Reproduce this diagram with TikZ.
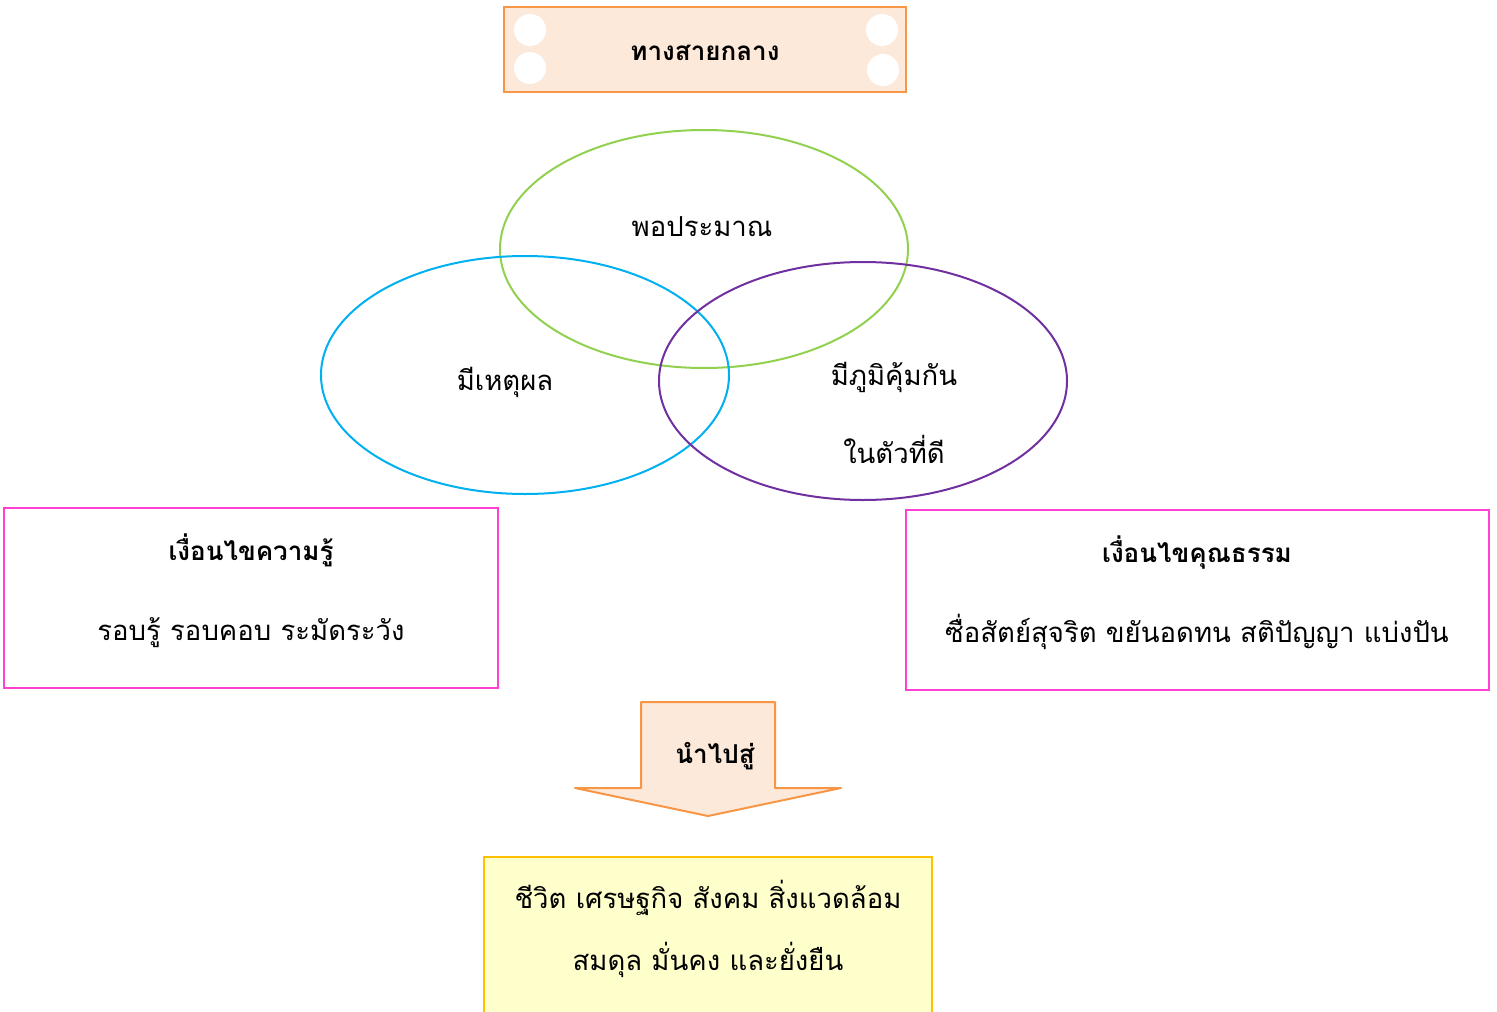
\documentclass[tikz,border=0pt]{standalone}
\usepackage{fontspec}
\usepackage{xcolor}
\usetikzlibrary{shapes.geometric}
\newfontfamily\thaifont[Script=Thai]{Loma}
\definecolor{naranja}{HTML}{F79646}
\definecolor{naranjaclaro}{HTML}{FDE9D9}
\definecolor{verde}{HTML}{92D050}
\definecolor{azul}{HTML}{00B0F0}
\definecolor{morado}{HTML}{7030A0}
\definecolor{rosa}{HTML}{FF40D0}
\definecolor{amarillo}{HTML}{FFC000}
\definecolor{amarilloclaro}{HTML}{FFFFCC}

\begin{document}
\begin{tikzpicture}[x=1pt, y=-1pt]
      % Definimos algunos estilos
      \tikzstyle{texto}=[
        font=\thaifont\fontsize{27.5}{32}\selectfont,
        anchor=base,
        inner sep=0pt
      ]
      \tikzstyle{titulo}=[texto, font=\thaifont\bfseries\fontsize{26}{30}\selectfont]
      % los tres conjuntos
      \tikzstyle{conjunto}=[
          ellipse,
          minimum width=408pt,
          minimum height=238pt,
          line width=2pt
      ]
      % cajas de condiciones
      \tikzstyle{condicion}=[
          rectangle,
          draw=rosa,
          line width=2pt,
          minimum height=180pt
      ]
      \tikzstyle{hueco}=[circle, fill=white, inner sep=0pt, minimum size=32pt]

      \useasboundingbox (0,0) rectangle (1497,1012);

      % camino medio
      \node[rectangle, fill=naranjaclaro, draw=naranja, line width=2pt,
        minimum width=402pt, minimum height=85pt] (camino) at (705,49.5) {};
      \node[hueco] (h1) at (530,30) {};
      \node[hueco] (h2) at (530,68) {};
      \node[hueco] (h3) at (882,30) {};
      \node[hueco] (h4) at (883,70) {};
      \node[titulo] (tcamino) at (705,60) {ทางสายกลาง};

      % conjuntos
      \node[conjunto, draw=verde] (moderacion) at (704,249) {};
      \node[conjunto, draw=azul] (razon) at (525,375) {};
      \node[conjunto, draw=morado] (inmunidad) at (863,381) {};
      \node[texto] (tmoderacion) at (702,236) {พอประมาณ};
      \node[texto] (trazon) at (505,390) {มีเหตุผล};
      \node[texto] (tinmunidad) at (894,385) {มีภูมิคุ้มกัน};
      \node[texto] (tinmunidad2) at (894,463) {ในตัวที่ดี};

      % condicion de conocimiento
      \node[condicion, minimum width=494pt] (conocimiento) at (251,598) {};
      \node[titulo] (tconocimiento) at (251,560) {เงื่อนไขความรู้};
      \node[texto] (tconocimiento2) at (251,640) {รอบรู้ รอบคอบ ระมัดระวัง};

      % condicion de virtud
      \node[condicion, minimum width=583pt] (virtud) at (1197.5,600) {};
      \node[titulo] (tvirtud) at (1197,562) {เงื่อนไขคุณธรรม};
      \node[texto] (tvirtud2) at (1197,642) {ซื่อสัตย์สุจริต ขยันอดทน สติปัญญา แบ่งปัน};

      % flecha
      \filldraw[fill=naranjaclaro, draw=naranja, line width=2pt, line join=round]
        (641,702) -- (775,702) -- (775,788) -- (841,788) -- (708,816)
        -- (575,788) -- (641,788) -- cycle;
      \node[titulo] (tflecha) at (715,763) {นำไปสู่};

      % resultado
      \node[rectangle, fill=amarilloclaro, draw=amarillo, line width=2pt,
        minimum width=448pt, minimum height=170pt] (resultado) at (708,942) {};
      \node[texto] (tresultado) at (708,908) {ชีวิต เศรษฐกิจ สังคม สิ่งแวดล้อม};
      \node[texto] (tresultado2) at (708,970) {สมดุล มั่นคง และยั่งยืน};
\end{tikzpicture}
\end{document}
